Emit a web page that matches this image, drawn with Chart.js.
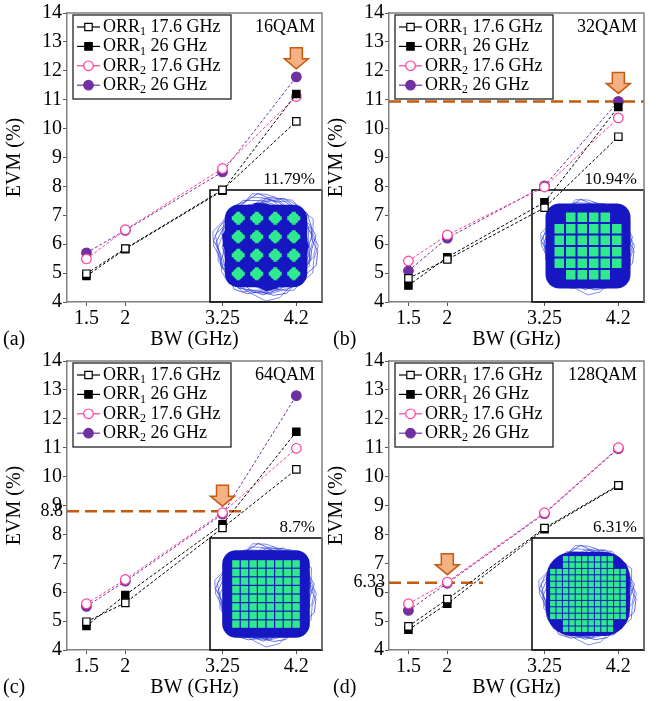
<!DOCTYPE html>
<html>
<head>
<meta charset="utf-8">
<script src="https://cdn.jsdelivr.net/npm/chart.js@4.4.1/dist/chart.umd.min.js"></script>
<style>
  body { margin: 0; background: #fff; }
  .p { position: absolute; width: 332px; height: 350px; }
</style>
</head>
<body>
<div class="p" style="left:0;top:0"><canvas id="c0"></canvas></div>
<div class="p" style="left:322px;top:0"><canvas id="c1"></canvas></div>
<div class="p" style="left:0;top:348px"><canvas id="c2"></canvas></div>
<div class="p" style="left:322px;top:348px"><canvas id="c3"></canvas></div>
<script>
// bandwidth points (GHz)
const bwTicks = [1.5, 2, 3.25, 4.2];

// series order: ORR1 17.6 GHz, ORR1 26 GHz, ORR2 17.6 GHz, ORR2 26 GHz
const evm16qam = [
  [4.98, 5.85, 7.88, 10.25],
  [4.9, 5.83, 7.85, 11.2],
  [5.49, 6.5, 8.62, 11.11],
  [5.7, 6.48, 8.5, 11.79]
];
const evm32qam = [
  [4.82, 5.47, 7.26, 9.72],
  [4.57, 5.55, 7.45, 10.75],
  [5.42, 6.32, 7.98, 10.37],
  [5.08, 6.21, 8.02, 10.94]
];
const evm64qam = [
  [4.98, 5.63, 8.22, 10.25],
  [4.83, 5.9, 8.35, 11.55],
  [5.6, 6.44, 8.75, 10.98],
  [5.51, 6.38, 8.7, 12.8]
];
const evm128qam = [
  [4.82, 5.76, 8.22, 9.7],
  [4.7, 5.6, 8.18, 9.68],
  [5.6, 6.35, 8.75, 11.0],
  [5.37, 6.31, 8.72, 10.97]
];

const seriesBase = ['ORR', 'ORR', 'ORR', 'ORR'];
const seriesSub = ['1', '1', '2', '2'];
const seriesRest = [' 17.6 GHz', ' 26 GHz', ' 17.6 GHz', ' 26 GHz'];

const formats = ['16QAM', '32QAM', '64QAM', '128QAM'];
const panelTags = ['(a)', '(b)', '(c)', '(d)'];
const insetEvm = ['11.79%', '10.94%', '8.7%', '6.31%'];
const arrowX = [4.2, 4.2, 3.25, 2];
const arrowY = [11.79, 10.94, 8.7, 6.33];
const limitY = [null, 10.94, 8.8, 6.33];
const limitEnd = [null, 4.53, 3.51, 2.46];
const limitText = [null, null, '8.8', '6.33'];

const allEvm = [evm16qam, evm32qam, evm64qam, evm128qam];

const colors = ['#000000', '#000000', '#ff3c9c', '#7030a0'];
const fills = ['#ffffff', '#000000', '#ffffff', '#7030a0'];
const styles = ['rect', 'rect', 'circle', 'circle'];
const radii = [5.2, 5.2, 4.8, 4.8];

const serif = "'Liberation Serif', 'Times New Roman', serif";
const orange = '#c55a11';

// constellation look, per panel
const gridN = [4, 6, 8, 12];
const gridSp = [18.5, 11.5, 8.6, 6.4];
const cellSz = [11, 9.5, 7.4, 5.4];
const blobSz = [108, 96, 104, 100];
const coreMargin = [8, 9, 10, 4];
const coreRound = [14, 14, 14, 26];
const blobShape = [0.95, 0.9, 0.98, 0.92, 0.86, 0.97, 1.0, 0.91, 0.88, 0.96, 0.93, 0.85,
                   0.95, 1.0, 0.9, 0.92, 0.87, 0.98, 0.94, 0.89, 0.96, 0.91, 0.99, 0.88];

function blobPath(ctx, cx, cy, R, shift, scale) {
  const n = blobShape.length;
  ctx.beginPath();
  for (let j = 0; j <= n; j++) {
    const f = blobShape[(j + shift * 5) % n];
    const ang = (j + shift * 0.41) / n * 2 * Math.PI;
    const r = R * f * scale;
    const px = cx + r * Math.cos(ang), py = cy + r * Math.sin(ang);
    if (j === 0) ctx.moveTo(px, py); else ctx.lineTo(px, py);
  }
}

function drawConst(ctx, bx, by, size, i) {
  const cx = bx + size / 2, cy = by + size / 2;
  const R = blobSz[i] / 2;
  const n = gridN[i], sp = gridSp[i], c = cellSz[i];
  const half = (n - 1) / 2 * sp + c / 2;
  const m = coreMargin[i];
  ctx.save();
  ctx.beginPath();
  ctx.rect(bx, by, size, size);
  ctx.clip();
  // scribbly edge
  ctx.lineWidth = 0.7;
  for (let k = 0; k < 10; k++) {
    ctx.strokeStyle = k % 2 ? '#2333d8' : '#4a58e8';
    blobPath(ctx, cx, cy, R, k, 1.02 - 0.025 * k);
    ctx.stroke();
  }
  // dense core
  ctx.fillStyle = '#1616c2';
  blobPath(ctx, cx, cy, R, 0, 0.84);
  ctx.closePath();
  ctx.fill();
  ctx.beginPath();
  ctx.roundRect(cx - half - m, cy - half - m, 2 * (half + m), 2 * (half + m), coreRound[i]);
  ctx.fill();
  // symbol clusters
  ctx.fillStyle = '#2fe98e';
  for (let r = 0; r < n; r++) {
    for (let q = 0; q < n; q++) {
      if (i === 1 && (r === 0 || r === n - 1) && (q === 0 || q === n - 1)) continue;
      if (i === 3 && (r < 2 || r >= n - 2) && (q < 2 || q >= n - 2)) continue;
      const px = cx + (q - (n - 1) / 2) * sp;
      const py = cy + (r - (n - 1) / 2) * sp;
      ctx.beginPath();
      if (i === 0) {
        ctx.arc(px, py, c / 2, 0, 2 * Math.PI);
        ctx.rect(px - c / 2 - 1, py - 2, c + 2, 4);
        ctx.rect(px - 2, py - c / 2 - 1, 4, c + 2);
      } else {
        ctx.rect(px - c / 2, py - c / 2, c, c);
      }
      ctx.fill();
    }
  }
  ctx.restore();
  ctx.strokeStyle = '#000';
  ctx.lineWidth = 1.5;
  ctx.strokeRect(bx, by, size, size);
}

function drawMarker(ctx, s, x, y) {
  ctx.save();
  ctx.fillStyle = fills[s];
  ctx.strokeStyle = colors[s];
  ctx.lineWidth = 1.2;
  ctx.beginPath();
  if (styles[s] === 'rect') ctx.rect(x - 3.7, y - 3.7, 7.4, 7.4);
  else ctx.arc(x, y, 4.8, 0, 2 * Math.PI);
  ctx.fill();
  ctx.stroke();
  ctx.restore();
}

const decor = {
  id: 'decor',
  beforeDatasetsDraw(chart, args, o) {
    const i = o.i;
    const { ctx, chartArea: a, scales: { x, y } } = chart;
    drawConst(ctx, a.right - 112, a.bottom - 112, 112, i);
    if (limitY[i] !== null) {
      const yy = y.getPixelForValue(limitY[i]);
      ctx.save();
      ctx.strokeStyle = orange;
      ctx.lineWidth = 2.5;
      ctx.setLineDash([12, 6]);
      ctx.beginPath();
      ctx.moveTo(a.left, yy);
      ctx.lineTo(Math.min(a.right, x.getPixelForValue(limitEnd[i])), yy);
      ctx.stroke();
      ctx.restore();
      if (limitText[i]) {
        ctx.save();
        ctx.font = '18px ' + serif;
        ctx.fillStyle = '#000';
        ctx.textAlign = 'right';
        ctx.textBaseline = 'middle';
        ctx.fillText(limitText[i], a.left - 4, yy);
        ctx.restore();
      }
    }
  },
  afterDatasetsDraw(chart, args, o) {
    const i = o.i;
    const { ctx, chartArea: a, scales: { x, y } } = chart;
    // arrow
    const ax = x.getPixelForValue(arrowX[i]);
    const tip = y.getPixelForValue(arrowY[i]) - 8;
    ctx.save();
    ctx.fillStyle = '#f4b183';
    ctx.strokeStyle = orange;
    ctx.lineWidth = 1.5;
    ctx.beginPath();
    ctx.moveTo(ax, tip);
    ctx.lineTo(ax - 12, tip - 10);
    ctx.lineTo(ax - 6, tip - 10);
    ctx.lineTo(ax - 6, tip - 21);
    ctx.lineTo(ax + 6, tip - 21);
    ctx.lineTo(ax + 6, tip - 10);
    ctx.lineTo(ax + 12, tip - 10);
    ctx.closePath();
    ctx.fill();
    ctx.stroke();
    ctx.restore();

    // legend
    const lx = a.left + 6, ly = a.top + 2;
    ctx.save();
    ctx.fillStyle = '#fff';
    ctx.fillRect(lx, ly, 158, 84);
    ctx.strokeStyle = '#222';
    ctx.lineWidth = 1.3;
    ctx.strokeRect(lx, ly, 158, 84);
    ctx.textBaseline = 'middle';
    for (let s = 0; s < 4; s++) {
      const ry = ly + 12 + s * 19.4;
      ctx.strokeStyle = colors[s];
      ctx.lineWidth = 1.2;
      ctx.beginPath();
      ctx.moveTo(lx + 4, ry);
      ctx.lineTo(lx + 27, ry);
      ctx.stroke();
      drawMarker(ctx, s, lx + 15.5, ry);
      ctx.fillStyle = '#000';
      ctx.font = '18px ' + serif;
      let tx = lx + 30;
      ctx.fillText(seriesBase[s], tx, ry);
      tx += ctx.measureText(seriesBase[s]).width;
      ctx.font = '12px ' + serif;
      ctx.fillText(seriesSub[s], tx, ry + 5);
      tx += ctx.measureText(seriesSub[s]).width;
      ctx.font = '18px ' + serif;
      ctx.fillText(seriesRest[s], tx, ry);
    }
    // format and inset EVM
    ctx.textAlign = 'right';
    ctx.font = '18px ' + serif;
    ctx.fillText(formats[i], a.right - 7, a.top + 14);
    ctx.font = '17px ' + serif;
    ctx.fillText(insetEvm[i], a.right - 7, a.bottom - 122);
    ctx.restore();
  },
  afterDraw(chart, args, o) {
    const { ctx, chartArea: a } = chart;
    ctx.save();
    ctx.strokeStyle = '#808080';
    ctx.lineWidth = 1.5;
    ctx.beginPath();
    ctx.moveTo(a.left, a.top);
    ctx.lineTo(a.right, a.top);
    ctx.lineTo(a.right, a.bottom);
    ctx.stroke();
    ctx.fillStyle = '#000';
    ctx.font = '20px ' + serif;
    ctx.textBaseline = 'middle';
    ctx.fillText(panelTags[o.i], o.tagX, 340);
    ctx.restore();
  }
};

function makeChart(i) {
  const datasets = allEvm[i].map((vals, s) => ({
    label: seriesBase[s] + seriesSub[s] + seriesRest[s],
    data: vals.map((v, k) => ({ x: bwTicks[k], y: v })),
    borderColor: colors[s],
    backgroundColor: fills[s],
    borderWidth: 1,
    borderDash: [3, 2],
    pointStyle: styles[s],
    pointRadius: radii[s],
    pointBorderWidth: 1.2,
    pointBorderColor: colors[s],
    pointBackgroundColor: fills[s],
    fill: false,
    tension: 0
  }));

  new Chart(document.getElementById('c' + i), {
    type: 'line',
    data: { datasets },
    options: {
      responsive: false,
      animation: false,
      devicePixelRatio: 1,
      layout: { padding: { top: 7, right: 10, left: 0, bottom: 0 } },
      plugins: {
        legend: { display: false },
        tooltip: { enabled: false },
        decor: { i, tagX: i % 2 ? 11 : 3 }
      },
      scales: {
        x: {
          type: 'linear',
          min: 1.25,
          max: 4.53,
          afterBuildTicks: s => { s.ticks = bwTicks.map(v => ({ value: v })); },
          afterFit: s => { s.height = 48; },
          grid: { drawOnChartArea: false, drawTicks: true, tickLength: 4, color: '#555' },
          border: { color: '#808080', width: 1.5 },
          ticks: {
            callback: v => String(v),
            color: '#000',
            font: { family: serif, size: 20 },
            padding: 1,
            maxRotation: 0,
            autoSkip: false
          },
          title: {
            display: true,
            text: 'BW (GHz)',
            color: '#000',
            font: { family: serif, size: 20 },
            padding: { top: 0, bottom: -2 }
          }
        },
        y: {
          min: 4,
          max: 14,
          afterFit: s => { s.width = 67; },
          grid: { drawOnChartArea: false, drawTicks: true, tickLength: 4, color: '#555' },
          border: { color: '#808080', width: 1.5 },
          ticks: {
            stepSize: 1,
            color: '#000',
            font: { family: serif, size: 20 },
            padding: 1
          },
          title: {
            display: true,
            text: 'EVM (%)',
            color: '#000',
            font: { family: serif, size: 20 },
            padding: { top: 3, bottom: 0 }
          }
        }
      }
    },
    plugins: [decor]
  });
}

document.querySelectorAll('canvas').forEach(c => { c.width = 332; c.height = 350; });
for (let i = 0; i < 4; i++) makeChart(i);
</script>
</body>
</html>
